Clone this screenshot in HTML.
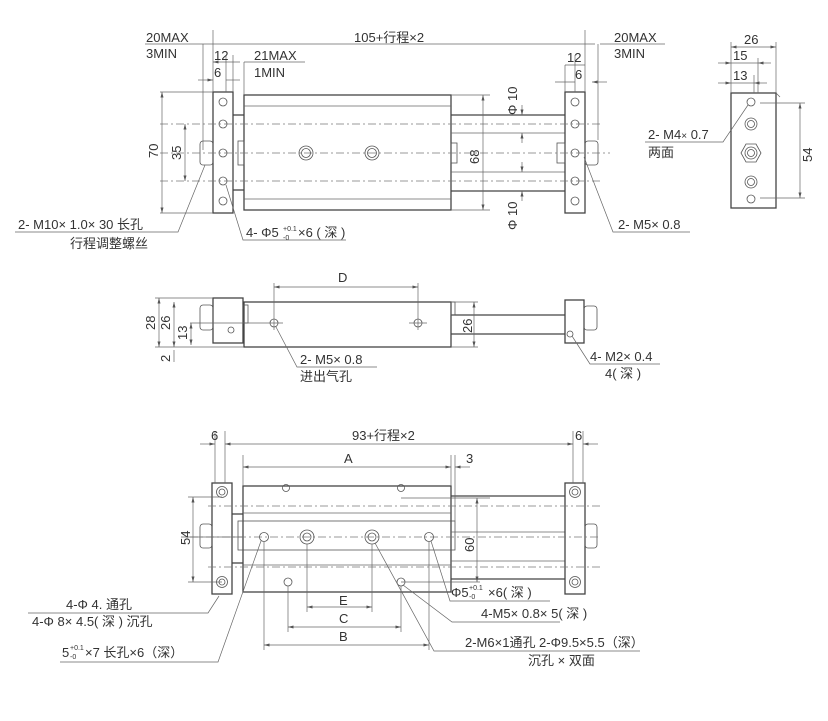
<!DOCTYPE html>
<html><head><meta charset="utf-8"><style>
html,body{margin:0;padding:0;background:#fff}
svg{display:block}
text{font-family:"Liberation Sans","Noto Sans CJK SC",sans-serif;fill:#333;font-size:13px}
.s{font-size:7px}
.l{stroke:#444;stroke-width:1.3;fill:none}
.t{stroke:#666;stroke-width:0.7;fill:none}
.d{stroke:#777;stroke-width:0.7;fill:none;stroke-dasharray:8 3 2 3}
.h{stroke:#555;stroke-width:0.8;fill:none}
</style></head><body>
<svg width="828" height="721" viewBox="0 0 828 721" xmlns="http://www.w3.org/2000/svg">
<defs><marker id="a" markerWidth="8" markerHeight="6" refX="8" refY="3" orient="auto-start-reverse"><path d="M0,0.8 L8,3 L0,5.2z" fill="#555"/></marker></defs>

<!-- ===== TOP VIEW ===== -->
<rect class="l" x="213" y="92" width="20" height="121"/>
<polyline class="l" points="233,115 244,115"/><polyline class="l" points="233,190 244,190"/>
<rect class="l" x="244" y="95" width="207" height="115"/>
<line class="t" x1="244" y1="106" x2="451" y2="106"/>
<line class="t" x1="244" y1="199" x2="451" y2="199"/>
<line class="l" x1="451" y1="115" x2="565" y2="115"/>
<line class="l" x1="451" y1="191" x2="565" y2="191"/>
<line class="t" x1="451" y1="133" x2="565" y2="133"/>
<line class="t" x1="451" y1="172" x2="565" y2="172"/>
<rect class="l" x="565" y="92" width="20" height="121"/>
<rect class="h" x="585" y="141" width="13" height="24" rx="3"/>
<rect class="h" x="200" y="141" width="13" height="24" rx="3"/>
<rect class="h" x="238" y="141" width="6" height="24"/>
<rect class="h" x="451" y="143" width="6" height="20"/>
<rect class="h" x="557" y="143" width="8" height="20"/>
<line class="d" x1="160" y1="124" x2="600" y2="124"/>
<line class="d" x1="160" y1="153" x2="610" y2="153"/>
<line class="d" x1="160" y1="181" x2="600" y2="181"/>
<g class="h">
<circle cx="223" cy="102" r="4"/><circle cx="223" cy="124" r="4"/><circle cx="223" cy="153" r="4"/><circle cx="223" cy="181" r="4"/><circle cx="223" cy="201" r="4"/>
<circle cx="575" cy="102" r="4"/><circle cx="575" cy="124" r="4"/><circle cx="575" cy="153" r="4"/><circle cx="575" cy="181" r="4"/><circle cx="575" cy="201" r="4"/>
<circle cx="306" cy="153" r="7"/><circle cx="306" cy="153" r="4.5"/><circle cx="372" cy="153" r="7"/><circle cx="372" cy="153" r="4.5"/>
</g>
<line class="t" x1="195" y1="44" x2="595" y2="44"/>
<line class="t" x1="145" y1="44" x2="195" y2="44"/>
<line class="t" x1="600" y1="44" x2="665" y2="44"/>
<line class="t" x1="203" y1="44" x2="203" y2="150"/>
<line class="t" x1="213" y1="30" x2="213" y2="92"/>
<line class="t" x1="233" y1="55" x2="233" y2="92"/>
<line class="t" x1="244" y1="62" x2="244" y2="95"/>
<line class="t" x1="226" y1="55" x2="226" y2="92"/>
<line class="t" x1="213" y1="62" x2="240" y2="62" marker-start="url(#a)"/>
<line class="t" x1="198" y1="80" x2="213" y2="80" marker-end="url(#a)"/>
<line class="t" x1="226" y1="80" x2="240" y2="80"/>
<line class="t" x1="244" y1="62" x2="305" y2="62"/>
<text x="146" y="42">20MAX</text><text x="146" y="58">3MIN</text>
<text x="354" y="42">105+行程×2</text>
<text x="214" y="60">12</text><text x="214" y="77">6</text>
<text x="254" y="60">21MAX</text><text x="254" y="77">1MIN</text>
<line class="t" x1="575" y1="55" x2="575" y2="92"/>
<line class="t" x1="585" y1="30" x2="585" y2="92"/>
<line class="t" x1="598" y1="44" x2="598" y2="140"/>
<line class="t" x1="565" y1="65" x2="565" y2="92"/>
<line class="t" x1="565" y1="65" x2="585" y2="65"/>
<line class="t" x1="555" y1="82" x2="575" y2="82"/>
<line class="t" x1="592" y1="82" x2="607" y2="82" marker-start="url(#a)"/>
<text x="567" y="62">12</text><text x="575" y="79">6</text>
<text x="614" y="42">20MAX</text><text x="614" y="58">3MIN</text>
<line class="t" x1="160" y1="92" x2="213" y2="92"/><line class="t" x1="160" y1="213" x2="213" y2="213"/>
<line class="t" x1="162" y1="92" x2="162" y2="213" marker-start="url(#a)" marker-end="url(#a)"/>
<line class="t" x1="185" y1="124" x2="185" y2="181" marker-start="url(#a)" marker-end="url(#a)"/>
<text transform="translate(158,158) rotate(-90)">70</text>
<text transform="translate(181,160) rotate(-90)">35</text>
<line class="t" x1="483" y1="95" x2="483" y2="210" marker-start="url(#a)" marker-end="url(#a)"/>
<line class="t" x1="451" y1="95" x2="490" y2="95"/><line class="t" x1="451" y1="210" x2="490" y2="210"/>
<text transform="translate(479,164) rotate(-90)">68</text>
<line class="t" x1="522" y1="105" x2="522" y2="115" marker-end="url(#a)"/>
<line class="t" x1="522" y1="143" x2="522" y2="133" marker-end="url(#a)"/>
<line class="t" x1="522" y1="162" x2="522" y2="172" marker-end="url(#a)"/>
<line class="t" x1="522" y1="201" x2="522" y2="191" marker-end="url(#a)"/>
<text transform="translate(517,115) rotate(-90)">Φ 10</text>
<text transform="translate(517,230) rotate(-90)">Φ 10</text>
<polyline class="t" points="205,165 178,232 15,232"/>
<text x="18" y="229">2- M10×  1.0×  30  长孔</text>
<text x="70" y="248">行程调整螺丝</text>
<polyline class="t" points="226,185 243,240 346,240"/>
<text x="246" y="237">4- Φ5</text><text class="s" x="283" y="231">+0.1</text><text class="s" x="283" y="240">-0</text><text x="298" y="237">×6 ( 深 )</text>
<polyline class="t" points="584,157 613,232 690,232"/>
<text x="618" y="229">2- M5× 0.8</text>

<rect class="l" x="731" y="93" width="45" height="115"/>
<line class="t" x1="776" y1="93" x2="780" y2="97"/>
<g class="h">
<circle cx="751" cy="102" r="4"/><circle cx="751" cy="124" r="6"/><circle cx="751" cy="124" r="3.5"/>
<polygon points="741,153 746,144 756,144 761,153 756,162 746,162"/><circle cx="751" cy="153" r="6"/><circle cx="751" cy="153" r="3.5"/>
<circle cx="751" cy="182" r="6"/><circle cx="751" cy="182" r="3.5"/><circle cx="751" cy="199" r="4"/>
</g>
<line class="t" x1="731" y1="42" x2="731" y2="93"/><line class="t" x1="776" y1="42" x2="776" y2="93"/>
<line class="t" x1="758" y1="58" x2="758" y2="93"/><line class="t" x1="754" y1="75" x2="754" y2="93"/>
<line class="t" x1="731" y1="47" x2="776" y2="47" marker-start="url(#a)" marker-end="url(#a)"/>
<line class="t" x1="718" y1="63" x2="731" y2="63" marker-end="url(#a)"/><line class="t" x1="771" y1="63" x2="758" y2="63" marker-end="url(#a)"/>
<line class="t" x1="731" y1="63" x2="758" y2="63"/>
<line class="t" x1="718" y1="83" x2="731" y2="83" marker-end="url(#a)"/><line class="t" x1="767" y1="83" x2="754" y2="83" marker-end="url(#a)"/>
<line class="t" x1="731" y1="83" x2="754" y2="83"/>
<text x="744" y="44">26</text><text x="733" y="60">15</text><text x="733" y="80">13</text>
<line class="t" x1="760" y1="103" x2="805" y2="103"/><line class="t" x1="760" y1="198" x2="805" y2="198"/>
<line class="t" x1="800" y1="103" x2="800" y2="198" marker-start="url(#a)" marker-end="url(#a)"/>
<text transform="translate(812,162) rotate(-90)">54</text>
<polyline class="t" points="748,105 723,142 645,142"/>
<text x="648" y="139">2-  M4<tspan font-size="10">×</tspan> 0.7</text>
<text x="648" y="157">两面</text>

<!-- ===== MIDDLE VIEW ===== -->
<rect class="l" x="213" y="298" width="30" height="45"/>
<rect class="l" x="244" y="302" width="207" height="45"/>
<rect class="h" x="200" y="305" width="13" height="25" rx="3"/>
<rect class="h" x="243" y="305" width="5" height="18"/>
<line class="l" x1="451" y1="315" x2="565" y2="315"/><line class="l" x1="451" y1="334" x2="565" y2="334"/>
<rect class="h" x="451" y="302" width="4" height="13"/>
<rect class="l" x="565" y="300" width="19" height="43"/>
<rect class="h" x="584" y="306" width="13" height="24" rx="3"/>
<circle class="h" cx="231" cy="330" r="3"/><circle class="h" cx="570" cy="334" r="3"/>
<circle class="h" cx="274" cy="323" r="4"/><circle class="h" cx="418" cy="323" r="4"/>
<line class="t" x1="265" y1="323" x2="283" y2="323"/><line class="t" x1="409" y1="323" x2="427" y2="323"/>
<line class="t" x1="274" y1="283" x2="274" y2="330"/><line class="t" x1="418" y1="283" x2="418" y2="330"/>
<line class="t" x1="274" y1="287" x2="418" y2="287" marker-start="url(#a)" marker-end="url(#a)"/>
<text x="338" y="282">D</text>
<line class="t" x1="155" y1="298" x2="213" y2="298"/><line class="t" x1="155" y1="347" x2="244" y2="347"/>
<line class="t" x1="190" y1="323" x2="265" y2="323"/>
<line class="t" x1="159" y1="298" x2="159" y2="347" marker-start="url(#a)" marker-end="url(#a)"/>
<line class="t" x1="174" y1="302" x2="174" y2="347" marker-start="url(#a)" marker-end="url(#a)"/>
<line class="t" x1="191" y1="323" x2="191" y2="345" marker-start="url(#a)" marker-end="url(#a)"/>
<line class="t" x1="174" y1="350" x2="174" y2="362"/>
<text transform="translate(155,330) rotate(-90)">28</text>
<text transform="translate(170,330) rotate(-90)">26</text>
<text transform="translate(187,340) rotate(-90)">13</text>
<text transform="translate(170,362) rotate(-90)">2</text>
<line class="t" x1="451" y1="302" x2="478" y2="302"/><line class="t" x1="451" y1="347" x2="478" y2="347"/>
<line class="t" x1="474" y1="302" x2="474" y2="347" marker-start="url(#a)" marker-end="url(#a)"/>
<text transform="translate(472,333) rotate(-90)">26</text>
<polyline class="t" points="276,327 297,367 377,367"/>
<text x="300" y="364">2- M5× 0.8</text><text x="300" y="381">进出气孔</text>
<polyline class="t" points="572,336 590,364 660,364"/>
<text x="590" y="361">4- M2× 0.4</text><text x="605" y="378">4( 深 )</text>

<!-- ===== BOTTOM VIEW ===== -->
<rect class="l" x="212" y="483" width="20" height="111"/>
<line class="l" x1="232" y1="514" x2="243" y2="514"/><line class="l" x1="232" y1="563" x2="243" y2="563"/>
<rect class="l" x="243" y="486" width="208" height="106"/>
<line class="t" x1="243" y1="513" x2="451" y2="513"/>
<line class="t" x1="243" y1="565" x2="451" y2="565"/>
<rect class="h" x="238" y="521" width="217" height="29"/>
<line class="l" x1="451" y1="496" x2="565" y2="496"/><line class="l" x1="451" y1="579" x2="565" y2="579"/>
<line class="t" x1="451" y1="532" x2="565" y2="532"/><line class="t" x1="451" y1="561" x2="565" y2="561"/>
<rect class="l" x="565" y="483" width="20" height="111"/>
<rect class="h" x="200" y="524" width="12" height="24" rx="3"/>
<rect class="h" x="585" y="524" width="12" height="24" rx="3"/>
<line class="d" x1="208" y1="506" x2="600" y2="506"/>
<line class="d" x1="190" y1="537" x2="600" y2="537"/>
<line class="d" x1="208" y1="567" x2="600" y2="567"/>
<g class="h">
<circle cx="222" cy="492" r="5.5"/><circle cx="222" cy="492" r="3"/><circle cx="222" cy="582" r="5.5"/><circle cx="222" cy="582" r="3"/>
<circle cx="575" cy="492" r="5.5"/><circle cx="575" cy="492" r="3"/><circle cx="575" cy="582" r="5.5"/><circle cx="575" cy="582" r="3"/>
<circle cx="264" cy="537" r="4.5"/><circle cx="429" cy="537" r="4.5"/>
<circle cx="307" cy="537" r="7"/><circle cx="307" cy="537" r="4"/><circle cx="372" cy="537" r="7"/><circle cx="372" cy="537" r="4"/>
<circle cx="286" cy="488" r="3.5"/><circle cx="401" cy="488" r="3.5"/><circle cx="288" cy="582" r="4"/><circle cx="401" cy="582" r="4"/>
</g>
<line class="t" x1="181" y1="537" x2="243" y2="537"/>
<line class="t" x1="215" y1="431" x2="215" y2="483"/><line class="t" x1="225" y1="431" x2="225" y2="483"/>
<line class="t" x1="573" y1="431" x2="573" y2="483"/><line class="t" x1="583" y1="431" x2="583" y2="483"/>
<line class="t" x1="200" y1="444" x2="215" y2="444" marker-end="url(#a)"/>
<line class="t" x1="225" y1="444" x2="573" y2="444" marker-start="url(#a)" marker-end="url(#a)"/>
<line class="t" x1="598" y1="444" x2="583" y2="444" marker-end="url(#a)"/>
<text x="211" y="440">6</text><text x="352" y="440">93+行程×2</text><text x="575" y="440">6</text>
<line class="t" x1="243" y1="455" x2="243" y2="486"/><line class="t" x1="451" y1="455" x2="451" y2="486"/><line class="t" x1="455" y1="455" x2="455" y2="521"/>
<line class="t" x1="243" y1="467" x2="451" y2="467" marker-start="url(#a)" marker-end="url(#a)"/>
<line class="t" x1="470" y1="467" x2="455" y2="467" marker-end="url(#a)"/>
<text x="344" y="463">A</text><text x="466" y="463">3</text>
<line class="t" x1="188" y1="497" x2="222" y2="497"/><line class="t" x1="188" y1="582" x2="222" y2="582"/>
<line class="t" x1="193" y1="497" x2="193" y2="582" marker-start="url(#a)" marker-end="url(#a)"/>
<text transform="translate(190,545) rotate(-90)">54</text>
<line class="t" x1="401" y1="498" x2="490" y2="498"/><line class="t" x1="401" y1="582" x2="480" y2="582"/>
<line class="t" x1="477" y1="498" x2="477" y2="582" marker-start="url(#a)" marker-end="url(#a)"/>
<text transform="translate(474,552) rotate(-90)">60</text>
<line class="t" x1="307" y1="544" x2="307" y2="612"/><line class="t" x1="372" y1="544" x2="372" y2="612"/>
<line class="t" x1="288" y1="586" x2="288" y2="632"/><line class="t" x1="401" y1="586" x2="401" y2="632"/>
<line class="t" x1="264" y1="542" x2="264" y2="650"/><line class="t" x1="429" y1="542" x2="429" y2="650"/>
<line class="t" x1="307" y1="607" x2="372" y2="607" marker-start="url(#a)" marker-end="url(#a)"/>
<line class="t" x1="288" y1="627" x2="401" y2="627" marker-start="url(#a)" marker-end="url(#a)"/>
<line class="t" x1="264" y1="645" x2="429" y2="645" marker-start="url(#a)" marker-end="url(#a)"/>
<text x="339" y="605">E</text><text x="339" y="623">C</text><text x="339" y="641">B</text>
<polyline class="t" points="219,596 208,613 28,613"/>
<text x="66" y="609">4-Φ 4.   通孔</text><text x="32" y="626">4-Φ 8× 4.5( 深 ) 沉孔</text>
<polyline class="t" points="261,541 218,662 60,662"/>
<text x="62" y="657">5</text><text class="s" x="70" y="650">+0.1</text><text class="s" x="70" y="659">-0</text><text x="85" y="657">×7 长孔×6（深）</text>
<polyline class="t" points="431,541 450,601 550,601"/>
<text x="451" y="597">Φ5</text><text class="s" x="469" y="590">+0.1</text><text class="s" x="469" y="599">-0</text><text x="488" y="597">×6( 深 )</text>
<polyline class="t" points="403,585 452,622 560,622"/>
<text x="481" y="618">4-M5× 0.8× 5( 深 )</text>
<polyline class="t" points="375,543 434,651 640,651"/>
<text x="465" y="647">2-M6×1通孔 2-Φ9.5×5.5（深）</text>
<text x="528" y="665">沉孔 × 双面</text>
</svg>
</body></html>
